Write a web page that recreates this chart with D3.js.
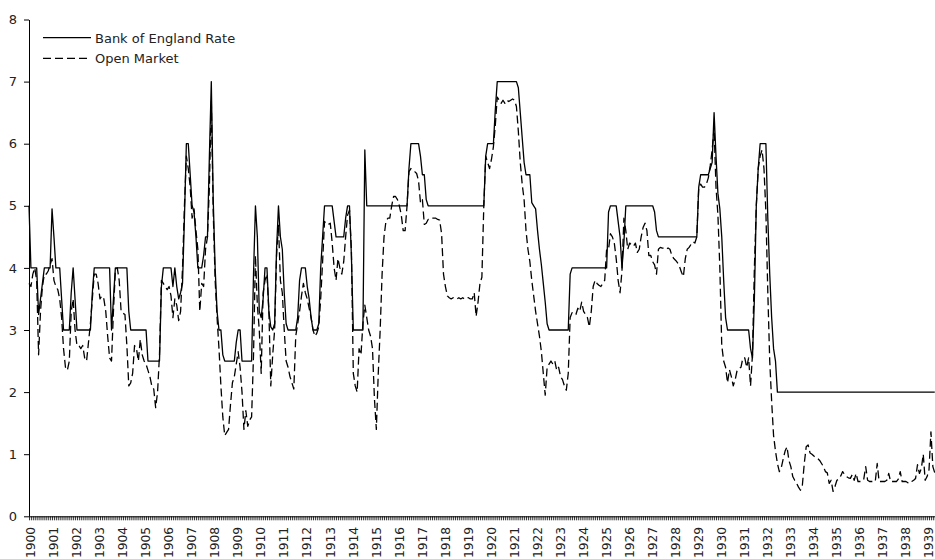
<!DOCTYPE html>
<html>
<head>
<meta charset="utf-8">
<title>Bank of England Rate vs Open Market</title>
<script src="https://d3js.org/d3.v7.min.js"></script>
<style>
  body { margin: 0; background: #fff; }
  svg { display: block; font-family: "DejaVu Sans", Verdana, sans-serif; }
</style>
</head>
<body>
<div id="chart"></div>
<script>
// tick labels
var years = [1900, 1901, 1902, 1903, 1904, 1905, 1906, 1907, 1908, 1909,
             1910, 1911, 1912, 1913, 1914, 1915, 1916, 1917, 1918, 1919,
             1920, 1921, 1922, 1923, 1924, 1925, 1926, 1927, 1928, 1929,
             1930, 1931, 1932, 1933, 1934, 1935, 1936, 1937, 1938, 1939];
var yTicks = [0, 1, 2, 3, 4, 5, 6, 7, 8];
var seriesNames = ["Bank of England Rate", "Open Market"];

// monthly values, Jan 1900 onwards (one row per year)
var bankRate = [
  5, 4, 4, 4, 4, 3.25, 3.5, 3.75, 4, 4, 4, 4,
  4.95, 4.5, 4, 4, 4, 3.5, 3, 3, 3, 3, 3.6, 4,
  3.5, 3, 3, 3, 3, 3, 3, 3, 3, 3.6, 4, 4,
  4, 4, 4, 4, 4, 4, 4, 3, 3.5, 4, 4, 4,
  4, 4, 4, 4, 3.3, 3, 3, 3, 3, 3, 3, 3,
  3, 3, 2.5, 2.5, 2.5, 2.5, 2.5, 2.5, 2.5, 3.7, 4, 4,
  4, 4, 4, 3.7, 4, 3.7, 3.5, 3.6, 3.75, 4.8, 6, 6,
  5.5, 5, 4.9, 4.5, 4, 4, 4, 4.2, 4.5, 4.5, 5.8, 7,
  5.1, 4, 3.3, 3, 3, 2.6, 2.5, 2.5, 2.5, 2.5, 2.5, 2.5,
  2.8, 3, 3, 2.5, 2.5, 2.5, 2.5, 2.5, 2.5, 3.9, 5, 4.5,
  3.3, 3.2, 3.5, 4, 4, 3.3, 3.05, 3, 3.1, 4.3, 5, 4.5,
  4.3, 3.6, 3.1, 3, 3, 3, 3, 3, 3.2, 3.8, 4, 4,
  4, 3.7, 3.5, 3.2, 3, 3, 3, 3.1, 4, 4.5, 5, 5,
  5, 5, 5, 4.75, 4.5, 4.5, 4.5, 4.5, 4.5, 4.8, 5, 5,
  4.2, 3, 3, 3, 3, 3, 3, 5.9, 5, 5, 5, 5,
  5, 5, 5, 5, 5, 5, 5, 5, 5, 5, 5, 5,
  5, 5, 5, 5, 5, 5, 5.6, 6, 6, 6, 6, 6,
  5.8, 5.5, 5.5, 5.1, 5, 5, 5, 5, 5, 5, 5, 5,
  5, 5, 5, 5, 5, 5, 5, 5, 5, 5, 5, 5,
  5, 5, 5, 5, 5, 5, 5, 5, 5, 5, 5.8, 6,
  6, 6, 6, 6.55, 7, 7, 7, 7, 7, 7, 7, 7,
  7, 7, 7, 6.9, 6.5, 6.1, 5.7, 5.5, 5.5, 5.5, 5.05, 5,
  4.95, 4.6, 4.3, 4.05, 3.75, 3.45, 3.1, 3, 3, 3, 3, 3,
  3, 3, 3, 3, 3, 3, 3.9, 4, 4, 4, 4, 4,
  4, 4, 4, 4, 4, 4, 4, 4, 4, 4, 4, 4,
  4, 4, 4.9, 5, 5, 5, 5, 4.75, 4.5, 4, 4.4, 5,
  5, 5, 5, 5, 5, 5, 5, 5, 5, 5, 5, 5,
  5, 5, 4.9, 4.6, 4.5, 4.5, 4.5, 4.5, 4.5, 4.5, 4.5, 4.5,
  4.5, 4.5, 4.5, 4.5, 4.5, 4.5, 4.5, 4.5, 4.5, 4.5, 4.5, 4.5,
  4.5, 5.3, 5.5, 5.5, 5.5, 5.5, 5.5, 5.6, 5.7, 6.5, 5.8, 5.2,
  4.95, 4.5, 3.8, 3.2, 3, 3, 3, 3, 3, 3, 3, 3,
  3, 3, 3, 3, 2.7, 2.55, 3.5, 5, 5.6, 6, 6, 6,
  6, 4.8, 3.9, 3.2, 2.7, 2.5, 2, 2, 2, 2, 2, 2,
  2, 2, 2, 2, 2, 2, 2, 2, 2, 2, 2, 2,
  2, 2, 2, 2, 2, 2, 2, 2, 2, 2, 2, 2,
  2, 2, 2, 2, 2, 2, 2, 2, 2, 2, 2, 2,
  2, 2, 2, 2, 2, 2, 2, 2, 2, 2, 2, 2,
  2, 2, 2, 2, 2, 2, 2, 2, 2, 2, 2, 2,
  2, 2, 2, 2, 2, 2, 2, 2, 2, 2, 2, 2,
  2, 2, 2, 2, 2
];

var openMarket = [
  3.75, 3.7, 3.9, 4.0, 3.8, 2.6, 3.3, 3.7, 3.9, 3.9, 3.95, 4.05,
  4.15, 3.8, 3.7, 3.65, 3.5, 3.2, 2.7, 2.4, 2.35, 2.5, 3.3, 3.5,
  3.0, 2.75, 2.75, 2.7, 2.75, 2.55, 2.5, 2.8, 3.1, 3.5, 3.9, 3.9,
  3.75, 3.5, 3.55, 3.5, 3.3, 2.9, 2.55, 2.5, 3.3, 3.95, 4.0, 3.8,
  3.3, 3.27, 3.25, 2.75, 2.1, 2.15, 2.3, 2.75, 2.7, 2.5, 2.85, 2.6,
  2.5, 2.45, 2.35, 2.25, 2.1, 2.05, 1.75, 2.0, 2.6, 3.8, 3.75, 3.7,
  3.65, 3.7, 3.55, 3.2, 3.5, 3.4, 3.15, 3.3, 4.0, 5.0, 5.8, 5.6,
  5.3, 4.8, 4.95, 4.6, 4.3, 3.3, 3.75, 3.7, 4.3, 4.5, 5.3, 6.7,
  4.9, 3.8, 3.2, 2.7, 2.1, 1.6, 1.3, 1.35, 1.4, 1.8, 2.15, 2.25,
  2.45, 2.65, 2.4, 2.0, 1.4, 1.7, 1.45, 1.55, 1.6, 2.6, 4.2, 3.4,
  3.0, 2.3, 3.6, 3.8, 3.9, 3.3, 2.1, 2.6, 3.0, 4.2, 4.7, 3.8,
  3.6, 3.0, 2.5, 2.4, 2.25, 2.15, 2.05, 2.9, 3.1, 3.3, 3.55, 3.75,
  3.6, 3.5, 3.35, 3.2, 3.0, 2.9, 2.95, 3.05, 3.5, 4.1, 4.75, 4.7,
  4.7, 4.72, 4.4, 4.0, 3.8, 4.15, 4.0, 3.9, 4.1, 4.5, 4.85, 4.93,
  4.3, 2.3, 2.1, 2.0, 2.7, 2.6, 3.1, 3.4, 3.2, 3.0, 2.9, 2.7,
  1.9, 1.4, 2.3, 3.0, 3.9, 4.5, 4.75, 4.8, 4.8, 5.0, 5.15, 5.15,
  5.1, 5.0, 4.85, 4.6, 4.6, 5.0, 5.55, 5.6, 5.58, 5.55, 5.52, 5.4,
  5.05, 5.1, 4.7, 4.72, 4.78, 4.8, 4.8, 4.8, 4.8, 4.78, 4.77, 4.55,
  3.9, 3.7, 3.55, 3.52, 3.5, 3.52, 3.5, 3.5, 3.52, 3.5, 3.52, 3.5,
  3.52, 3.52, 3.5, 3.5, 3.6, 3.22, 3.45, 3.75, 3.85, 5.0, 5.8, 5.7,
  5.6, 5.75, 5.95, 6.3, 6.75, 6.7, 6.65, 6.7, 6.65, 6.7, 6.68, 6.7,
  6.72, 6.7, 6.6, 6.2, 5.7, 5.35, 5.1, 4.6, 4.3, 4.1, 3.8, 3.55,
  3.3, 3.1, 2.9, 2.65, 2.3, 1.95, 2.4, 2.45, 2.5, 2.45, 2.5, 2.35,
  2.4, 2.25, 2.2, 2.1, 2.03, 2.3, 3.2, 3.28, 3.25, 3.25, 3.35, 3.3,
  3.45, 3.3, 3.25, 3.2, 3.05, 3.3, 3.7, 3.8, 3.75, 3.72, 3.7, 3.75,
  3.8, 4.3, 4.3, 4.55, 4.5, 4.4, 4.15, 3.8, 3.6, 3.95, 4.8, 4.6,
  4.3, 4.4, 4.37, 4.35, 4.4, 4.25, 4.3, 4.5, 4.65, 4.72, 4.6, 4.2,
  4.2, 4.1, 4.05, 3.9, 4.3, 4.33, 4.32, 4.32, 4.3, 4.32, 4.3, 4.2,
  4.15, 4.12, 4.08, 4.02, 3.93, 3.86, 4.15, 4.3, 4.33, 4.38, 4.42, 4.4,
  4.5, 5.3, 5.35, 5.3, 5.3, 5.35, 5.45, 5.65, 5.9, 6.25, 5.3, 4.85,
  4.0, 2.75, 2.5, 2.4, 2.15, 2.36, 2.25, 2.1, 2.2, 2.35, 2.38, 2.4,
  2.55, 2.55, 2.4, 2.55, 2.1, 2.6, 4.0, 5.0, 5.6, 5.8, 5.9, 5.6,
  4.9, 3.6, 2.5, 1.85, 1.3, 1.05, 0.85, 0.72, 0.78, 0.92, 1.05, 1.12,
  0.9, 0.8, 0.64, 0.58, 0.53, 0.47, 0.42, 0.5, 0.85, 1.12, 1.15, 1.02,
  1.0, 0.97, 0.95, 0.93, 0.9, 0.85, 0.8, 0.72, 0.7, 0.53, 0.58, 0.4,
  0.48, 0.58, 0.6, 0.65, 0.72, 0.67, 0.64, 0.62, 0.61, 0.67, 0.58, 0.69,
  0.56, 0.56, 0.56, 0.6, 0.8, 0.58, 0.56, 0.56, 0.56, 0.56, 0.85, 0.56,
  0.56, 0.56, 0.56, 0.58, 0.69, 0.56, 0.56, 0.56, 0.56, 0.6, 0.72, 0.56,
  0.56, 0.56, 0.54, 0.53, 0.56, 0.58, 0.61, 0.83, 0.69, 0.77, 1.0, 0.58,
  0.64, 0.75, 1.36, 0.8, 0.7
];

var w = 935,
    h = 559,
    plotLeft = 29,
    plotTop = 19.5,
    plotBottom = 516.3,
    monthW = 1.919,
    nMonths = years.length * 12;

var svg = d3.select('#chart').append('svg')
    .attr('width', w)
    .attr('height', h);

var x = d3.scaleLinear()
    .domain([0, nMonths])
    .range([plotLeft, plotLeft + nMonths * monthW]);

var y = d3.scaleLinear()
    .domain([0, 8])
    .range([plotBottom, plotTop]);

// y axis
var yAxis = svg.append('g')
    .attr('transform', 'translate(' + plotLeft + ',0)')
    .call(d3.axisLeft(y).tickValues(yTicks).tickSize(5).tickSizeOuter(0).tickPadding(7));
yAxis.select('.domain').attr('stroke', '#000');
yAxis.selectAll('.tick line').attr('stroke', '#000');
yAxis.selectAll('text')
    .attr('font-size', '13px')
    .attr('font-family', '"DejaVu Sans", Verdana, sans-serif')
    .attr('fill', '#222');

// monthly minor ticks along the x axis
var xTicks = svg.append('g')
    .attr('transform', 'translate(0,' + plotBottom + ')')
    .call(d3.axisBottom(x).tickValues(d3.range(0, nMonths)).tickSize(4).tickSizeOuter(0).tickFormat(''));
xTicks.select('.domain').attr('stroke', '#000');
xTicks.selectAll('.tick line').attr('stroke', '#000').attr('stroke-width', 0.8);

// year labels, rotated
svg.append('g').selectAll('text')
    .data(years)
    .enter()
    .append('text')
    .attr('transform', function(d, i) { return 'translate(' + x(i * 12) + ',' + (plotBottom + 10.5) + ') rotate(-90)'; })
    .attr('text-anchor', 'end')
    .attr('dy', '0.5em')
    .attr('font-size', '12.3px')
    .attr('fill', '#222')
    .text(function(d) { return d; });

// lines
var line = d3.line()
    .x(function(d, i) { return x(i); })
    .y(function(d) { return y(d); });

svg.append('path')
    .datum(bankRate)
    .attr('d', line)
    .attr('fill', 'none')
    .attr('stroke', '#000')
    .attr('stroke-width', 1.3)
    .attr('stroke-linejoin', 'round');

svg.append('path')
    .datum(openMarket)
    .attr('d', line)
    .attr('fill', 'none')
    .attr('stroke', '#000')
    .attr('stroke-width', 1.3)
    .attr('stroke-dasharray', '8,4')
    .attr('stroke-linejoin', 'round');

// legend
var legend = svg.append('g').selectAll('g')
    .data(seriesNames)
    .enter()
    .append('g')
    .attr('transform', function(d, i) { return 'translate(43,' + (37.7 + i * 20.6) + ')'; });

legend.append('line')
    .attr('x1', 0).attr('x2', 48)
    .attr('y1', 0).attr('y2', 0)
    .attr('stroke', '#000')
    .attr('stroke-width', 1.3)
    .attr('stroke-dasharray', function(d, i) { return i ? '8,4' : null; });

legend.append('text')
    .attr('x', 52)
    .attr('y', 5)
    .attr('font-size', '13px')
    .attr('fill', '#222')
    .text(function(d) { return d; });
</script>
</body>
</html>
